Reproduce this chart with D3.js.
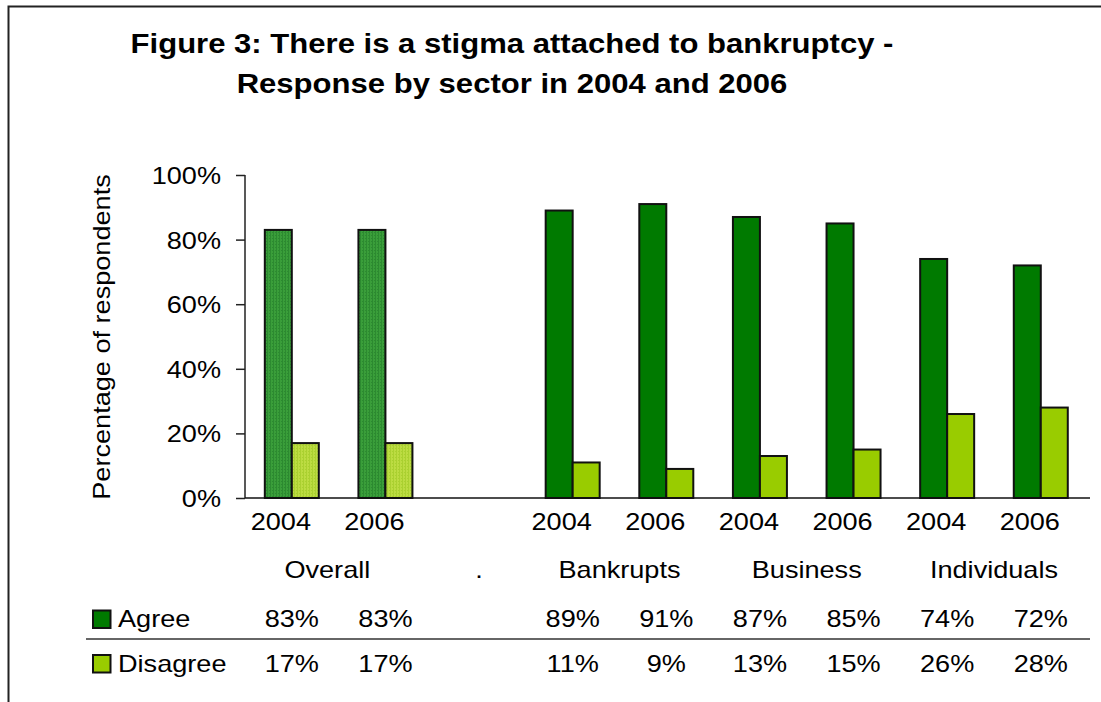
<!DOCTYPE html>
<html>
<head>
<meta charset="utf-8">
<script src="https://cdn.jsdelivr.net/npm/d3@7"></script>
<style>
  html, body { margin: 0; padding: 0; background: #fff; overflow: hidden; width: 1101px; height: 702px; }
  svg { position: fixed; left: 0; top: 0; display: block; font-family: "Liberation Sans", Arial, sans-serif; overflow: hidden; background: #fff; }
  text { white-space: pre; }
</style>
</head>
<body>
<svg id="chart" width="1101" height="702"></svg>
<script>
// Survey responses by sector and year
const slotYears  = ["2004", "2006", "", "2004", "2006", "2004", "2006", "2004", "2006"];
const slotGroups = ["Overall", "Overall", ".", "Bankrupts", "Bankrupts", "Business", "Business", "Individuals", "Individuals"];
const agree      = [83, 83, null, 89, 91, 87, 85, 74, 72];
const disagree   = [17, 17, null, 11, 9, 13, 15, 26, 28];
const seriesNames = ["Agree", "Disagree"];
const yTicks = [0, 20, 40, 60, 80, 100];
const titleLines = [
  "Figure 3: There is a stigma attached to bankruptcy -",
  "Response by sector in 2004 and 2006"
];
const yTitle = "Percentage of respondents";

const SX = 1.13; // horizontal glyph stretch
const svg = d3.select("#chart");

// Frame (open to the right and bottom)
svg.append("path")
  .attr("d", "M8.5,702V6.5H1101")
  .attr("fill", "none").attr("stroke", "#222").attr("stroke-width", 2);

function label(g, x, y, str, anchor, size, weight) {
  return g.append("text")
    .attr("transform", `translate(${x},${y}) scale(${SX},1)`)
    .attr("text-anchor", anchor || "middle")
    .attr("font-size", size || 24)
    .attr("font-weight", weight || "normal")
    .attr("fill", "#000")
    .text(str);
}

// Title
const titleG = svg.append("g");
titleLines.forEach((t, i) => label(titleG, 512, 53 + i * 40, t, "middle", 27.5, "bold"));

// Scales
const idx = d3.range(slotYears.length);
const x = d3.scaleBand().domain(idx).range([245, 1087.6]).paddingInner(0);
const y = d3.scaleLinear().domain([0, 100]).range([498, 175]);
const barW = 27;
const center = i => x(i) + x.bandwidth() / 2;

// Patterns for the overall bars
const defs = svg.append("defs");
function stripes(id, base, line) {
  const p = defs.append("pattern").attr("id", id)
    .attr("patternUnits", "userSpaceOnUse").attr("width", 3).attr("height", 3);
  p.append("rect").attr("width", 3).attr("height", 3).attr("fill", base);
  p.append("rect").attr("width", 1).attr("height", 3).attr("fill", line);
  p.append("rect").attr("x", 2).attr("y", 1).attr("width", 1).attr("height", 1).attr("fill", line);
}
stripes("patAgree", "#3a9e3a", "#2c8a30");
stripes("patDisagree", "#bcdc42", "#aad030");

const colors = { Agree: "#007a00", Disagree: "#99cc00" };
const fills = (s, i) => slotGroups[i] === "Overall"
  ? (s === "Agree" ? "url(#patAgree)" : "url(#patDisagree)")
  : colors[s];

// Y axis
const yAxis = svg.append("g").attr("transform", "translate(245,0)")
  .call(d3.axisLeft(y).tickValues(yTicks).tickSize(9).tickFormat(d => d + "%"));
yAxis.select(".domain").attr("stroke", "#222").attr("stroke-width", 1.5).attr("d", "M0,175V498");
yAxis.selectAll(".tick line").attr("stroke", "#222").attr("stroke-width", 1.5);
yAxis.selectAll(".tick text")
  .attr("x", 0).attr("dy", "0.35em")
  .attr("transform", `translate(-24,0) scale(${SX},1)`)
  .attr("font-size", 24).attr("font-family", "Liberation Sans, Arial, sans-serif").attr("fill", "#000");

// Y axis title
svg.append("text")
  .attr("transform", `translate(110,337) rotate(-90) scale(${SX},1)`)
  .attr("text-anchor", "middle").attr("font-size", 24).attr("fill", "#000")
  .text(yTitle);

// Bars
const bars = svg.append("g");
idx.forEach(i => {
  [["Agree", agree[i], -barW], ["Disagree", disagree[i], 0]].forEach(([s, v, off]) => {
    if (v == null) return;
    bars.append("rect")
      .attr("x", center(i) + off).attr("y", y(v))
      .attr("width", barW).attr("height", y(0) - y(v))
      .attr("fill", fills(s, i)).attr("stroke", "#111").attr("stroke-width", 2);
  });
});

// X baseline
svg.append("line").attr("x1", 245).attr("x2", 1090).attr("y1", 498).attr("y2", 498)
  .attr("stroke", "#111").attr("stroke-width", 1.5);

// Category labels
const catG = svg.append("g");
idx.forEach(i => { if (slotYears[i]) label(catG, center(i) - 11, 530, slotYears[i]); });
const groupNames = Array.from(new Set(slotGroups));
groupNames.forEach(gn => {
  const members = idx.filter(i => slotGroups[i] === gn);
  const cx = d3.mean(members, center);
  label(catG, cx, 578, gn === "Overall" ? gn + "   " : gn);
});

// Data table
const tab = svg.append("g");
tab.append("line").attr("x1", 86).attr("x2", 1090).attr("y1", 639).attr("y2", 639)
  .attr("stroke", "#333").attr("stroke-width", 1.5);
[agree, disagree].forEach((vals, r) => {
  const by = 627 + r * 44.5;
  const s = seriesNames[r];
  tab.append("rect").attr("x", 93).attr("y", by - 16.5).attr("width", 17.5).attr("height", 17.5)
    .attr("fill", colors[s]).attr("stroke", "#111").attr("stroke-width", 2);
  label(tab, 118, by, s, "start");
  vals.forEach((v, i) => { if (v != null) label(tab, center(i), by, v + "%"); });
});
</script>
</body>
</html>
